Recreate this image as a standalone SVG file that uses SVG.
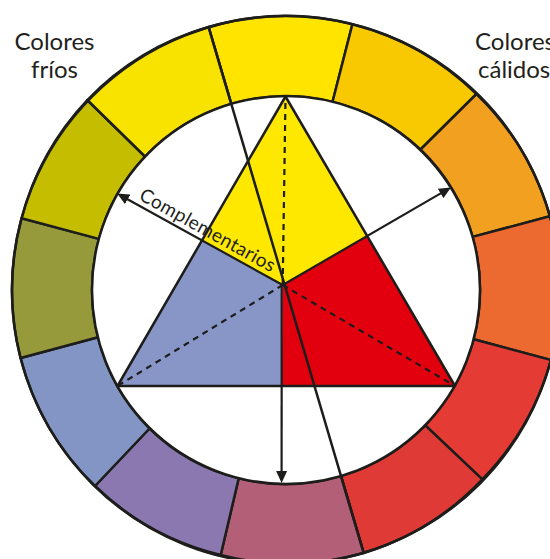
<svg xmlns="http://www.w3.org/2000/svg" width="550" height="559" viewBox="0 0 550 559">
<style>
.seg{stroke:#1d1d1b;stroke-width:2.5;stroke-linejoin:round}
.edge{fill:none;stroke:#1d1d1b;stroke-width:2.5;stroke-linejoin:round}
.arrow{fill:none;stroke:#1d1d1b;stroke-width:2.2;marker-end:url(#ah)}
.dash{fill:none;stroke:#1d1d1b;stroke-width:2.2;stroke-dasharray:6 5}
.lbl{font-family:Lato,"Liberation Sans",sans-serif;font-size:24px;fill:#231f20}
.cmp{font-family:Lato,"Liberation Sans",sans-serif;font-size:19px;fill:#231f20}
</style>
<defs>
<marker id="ah" viewBox="0 0 12 12" refX="9" refY="6" markerWidth="12" markerHeight="12" markerUnits="userSpaceOnUse" orient="auto">
<path d="M0,0.5 L12,6 L0,11.5 Z" fill="#1d1d1b"/>
</marker>
</defs>
<g id="wheel">
<path class="seg" fill="#FFE400" d="M208.6,27 A274,274 0 0 1 352.4,24.2 L332.5,102 A194,194 0 0 0 231.3,104 Z"/>
<path class="seg" fill="#F8C800" d="M352.4,24.2 A274,274 0 0 1 476.5,94 L420.5,149.5 A194,194 0 0 0 332.5,102 Z"/>
<path class="seg" fill="#F2A01F" d="M476.5,94 A274,274 0 0 1 549.9,216.2 L472.6,236.9 A194,194 0 0 0 420.5,149.5 Z"/>
<path class="seg" fill="#EC6930" d="M549.9,216.2 A274,274 0 0 1 550.9,360 L473.6,339.3 A194,194 0 0 0 472.6,236.9 Z"/>
<path class="seg" fill="#E43B35" d="M550.9,360 A274,274 0 0 1 482.3,479.3 L425.3,425.3 A194,194 0 0 0 473.6,339.3 Z"/>
<path class="seg" fill="#E03A36" d="M482.3,479.3 A274,274 0 0 1 363.7,553 L341,476 A194,194 0 0 0 425.3,425.3 Z"/>
<path class="seg" fill="#B25F77" d="M363.7,553 A274,274 0 0 1 220.7,555 L238.7,478.2 A194,194 0 0 0 341,476 Z"/>
<path class="seg" fill="#8B78B0" d="M220.7,555 A274,274 0 0 1 95,486 L149.5,428.5 A194,194 0 0 0 238.7,478.2 Z"/>
<path class="seg" fill="#8295C4" d="M95,486 A274,274 0 0 1 20.6,358 L97.9,337.3 A194,194 0 0 0 149.5,428.5 Z"/>
<path class="seg" fill="#969A3B" d="M20.6,358 A274,274 0 0 1 21.6,218.2 L98.9,238.9 A194,194 0 0 0 97.9,337.3 Z"/>
<path class="seg" fill="#C5BE00" d="M21.6,218.2 A274,274 0 0 1 87.3,100 L145,156.5 A194,194 0 0 0 98.9,238.9 Z"/>
<path class="seg" fill="#F7E200" d="M87.3,100 A274,274 0 0 1 208.6,27 L231.3,104 A194,194 0 0 0 145,156.5 Z"/>
<circle cx="286" cy="290" r="274" class="edge"/>
<circle cx="286" cy="290" r="194" fill="#ffffff" stroke="#1d1d1b" stroke-width="2.5"/>
</g>
<g id="triangle">
<polygon id="yellow" fill="#FFE800" points="285.5,96.5 201.5,240.5 282.7,285 367.2,236.1"/>
<polygon id="blue" fill="#8796C6" points="201.5,240.5 117.5,386 281.7,386 282.7,285"/>
<polygon id="red" fill="#E2000F" points="282.7,285 281.7,386 455,386 367.2,236.1"/>
<polygon class="edge" points="285.5,96.5 117.5,386 455,386"/>
</g>
<g id="connectors">
<line class="dash" x1="282.7" y1="285" x2="285.5" y2="96.5"/>
<line class="dash" x1="282.7" y1="285" x2="117.5" y2="386"/>
<line class="dash" x1="282.7" y1="285" x2="455" y2="386"/>
<line class="arrow" x1="282.7" y1="285" x2="119.8" y2="195"/>
<line class="arrow" x1="282.7" y1="285" x2="448.4" y2="188.9"/>
<line class="arrow" x1="281.7" y1="285" x2="281.6" y2="480"/>
<line class="edge" x1="208.6" y1="27" x2="363.7" y2="553"/>
</g>
<g id="labels">
<text class="lbl" x="54.5" y="50" text-anchor="middle">Colores</text>
<text class="lbl" x="54.5" y="78" text-anchor="middle">fríos</text>
<text class="lbl" x="475" y="50">Colores</text>
<text class="lbl" x="478" y="78">cálidos</text>
<text class="cmp" transform="translate(138,199) rotate(28.95)" textLength="152" lengthAdjust="spacing">Complementarios</text>
</g>
</svg>
